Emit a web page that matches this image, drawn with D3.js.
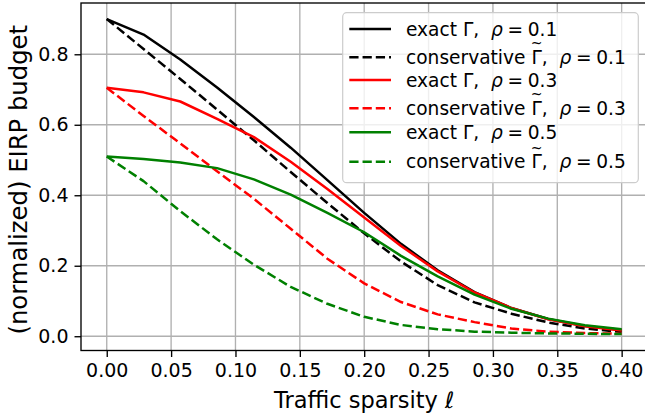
<!DOCTYPE html>
<html>
<head>
<meta charset="utf-8">
<script src="https://cdn.jsdelivr.net/npm/d3@7"></script>
<style>
  body { margin: 0; background: #fff; }
  text { font-family: 'DejaVu Sans', sans-serif; white-space: pre; }
</style>
</head>
<body>
<div id="chart"></div>
<script>
// traffic sparsity samples
const sparsity = [0, 0.0286, 0.0571, 0.0857, 0.1143, 0.1429, 0.1714, 0.2, 0.2286, 0.2571, 0.2857, 0.3143, 0.3429, 0.3714, 0.4]

const exact01 = [0.900, 0.856, 0.785, 0.706, 0.622, 0.535, 0.443, 0.350, 0.262, 0.187, 0.125, 0.080, 0.049, 0.029, 0.018]
const cons01 = [0.900, 0.815, 0.730, 0.643, 0.556, 0.466, 0.378, 0.292, 0.212, 0.145, 0.096, 0.064, 0.039, 0.022, 0.012]
const exact03 = [0.705, 0.692, 0.666, 0.617, 0.565, 0.495, 0.418, 0.337, 0.256, 0.184, 0.124, 0.080, 0.048, 0.028, 0.016]
const cons03 = [0.705, 0.625, 0.547, 0.468, 0.390, 0.305, 0.220, 0.150, 0.097, 0.062, 0.040, 0.022, 0.013, 0.009, 0.007]
const exact05 = [0.510, 0.503, 0.493, 0.477, 0.445, 0.402, 0.350, 0.295, 0.228, 0.170, 0.118, 0.078, 0.050, 0.031, 0.020]
const cons05 = [0.510, 0.440, 0.355, 0.275, 0.203, 0.140, 0.092, 0.055, 0.032, 0.020, 0.013, 0.010, 0.008, 0.007, 0.006]

const xTicks = [0, 0.05, 0.1, 0.15, 0.2, 0.25, 0.3, 0.35, 0.4]
const yTicks = [0, 0.2, 0.4, 0.6, 0.8]

const series = [
    { kind: 'exact', rho: '0.1', values: exact01, color: '#000000', dashed: false },
    { kind: 'conservative', rho: '0.1', values: cons01, color: '#000000', dashed: true },
    { kind: 'exact', rho: '0.3', values: exact03, color: '#ff0000', dashed: false },
    { kind: 'conservative', rho: '0.3', values: cons03, color: '#ff0000', dashed: true },
    { kind: 'exact', rho: '0.5', values: exact05, color: '#008000', dashed: false },
    { kind: 'conservative', rho: '0.5', values: cons05, color: '#008000', dashed: true }
]

const W = 645, H = 420
const plot = { left: 81, right: 647.4, top: 3, bottom: 350.5 }
const dash = '9.25,4'

const svg = d3.select('#chart')
    .append('svg')
        .attr('width', W)
        .attr('height', H)

const x = d3.scaleLinear()
    .domain([-0.02, 0.42])
    .range([plot.left, plot.right])

const y = d3.scaleLinear()
    .domain([-0.0405, 0.9455])
    .range([plot.bottom, plot.top])

// grid
const grid = svg.append('g')
grid.selectAll('.gx')
    .data(xTicks)
    .enter()
    .append('line')
        .attr('x1', d => x(d)).attr('x2', d => x(d))
        .attr('y1', plot.top).attr('y2', plot.bottom)
        .attr('stroke', '#b0b0b0')
        .attr('stroke-width', 1.35)
grid.selectAll('.gy')
    .data(yTicks)
    .enter()
    .append('line')
        .attr('x1', plot.left).attr('x2', plot.right)
        .attr('y1', d => y(d)).attr('y2', d => y(d))
        .attr('stroke', '#b0b0b0')
        .attr('stroke-width', 1.35)

// curves
const line = d3.line()
    .x((d, i) => x(sparsity[i]))
    .y(d => y(d))

svg.append('g')
    .selectAll('path')
    .data(series)
    .enter()
    .append('path')
        .attr('d', d => line(d.values))
        .attr('fill', 'none')
        .attr('stroke', d => d.color)
        .attr('stroke-width', 2.5)
        .attr('stroke-dasharray', d => d.dashed ? dash : null)
        .attr('stroke-linejoin', 'round')

// axes
svg.append('g')
    .attr('transform', `translate(0, ${plot.bottom})`)
    .call(d3.axisBottom(x).tickValues(xTicks).tickFormat(d3.format('.2f')).tickSizeOuter(0).tickSize(6.5).tickPadding(7))
svg.append('g')
    .attr('transform', `translate(${plot.left}, 0)`)
    .call(d3.axisLeft(y).tickValues(yTicks).tickFormat(d3.format('.1f')).tickSizeOuter(0).tickSize(6.5).tickPadding(6))

svg.selectAll('.domain').remove()
svg.selectAll('.tick line').attr('stroke', '#000').attr('stroke-width', 1.35)
svg.selectAll('.tick text')
    .attr('fill', '#000')
    .style('font-size', '19px')
    .style('font-family', 'DejaVu Sans')

// frame
svg.append('rect')
    .attr('x', plot.left).attr('y', plot.top)
    .attr('width', plot.right - plot.left)
    .attr('height', plot.bottom - plot.top)
    .attr('fill', 'none')
    .attr('stroke', '#000')
    .attr('stroke-width', 1.35)

// axis labels
const xLabel = svg.append('text')
    .attr('x', (plot.left + plot.right) / 2)
    .attr('y', 408)
    .attr('text-anchor', 'middle')
    .style('font-size', '22.5px')
xLabel.append('tspan').text('Traffic sparsity ')
xLabel.append('tspan').style('font-style', 'italic').text('ℓ')

svg.append('text')
    .attr('transform', `translate(27, ${(plot.top + plot.bottom) / 2 + 3}) rotate(-90)`)
    .attr('text-anchor', 'middle')
    .style('font-size', '24.3px')
    .text('(normalized) EIRP budget')

// legend
const legend = svg.append('g')
legend.append('rect')
    .attr('x', 342.7).attr('y', 12.7)
    .attr('width', 295.6).attr('height', 170)
    .attr('rx', 4)
    .attr('fill', 'rgba(255,255,255,0.8)')
    .attr('stroke', '#cccccc')
    .attr('stroke-width', 1.2)

const rowY = [29, 57.3, 80, 108.3, 132.3, 161.7]
const gammaW = 0.557 * 18.6
const tildeW = 0.838 * 14

series.forEach((s, i) => {
    const ry = rowY[i]
    legend.append('line')
        .attr('x1', 349.3).attr('x2', 391)
        .attr('y1', ry).attr('y2', ry)
        .attr('stroke', s.color)
        .attr('stroke-width', 2.5)
        .attr('stroke-dasharray', s.dashed ? dash : null)

    const t = legend.append('text')
        .attr('x', 406)
        .attr('y', ry + 6.5)
        .style('font-size', '18.6px')
    t.append('tspan').text(s.kind + ' ')
    t.append('tspan').text('Γ')
    let back = 0
    if (s.kind === 'conservative') {
        // wide tilde sitting over the Gamma
        t.append('tspan')
            .attr('dx', -(gammaW + tildeW) / 2)
            .attr('dy', -15.5)
            .style('font-size', '14px')
            .text('~')
        back = (gammaW - tildeW) / 2
    }
    t.append('tspan')
        .attr('dx', back)
        .attr('dy', s.kind === 'conservative' ? 15.5 : 0)
        .text(',  ')
    t.append('tspan').style('font-style', 'italic').text('ρ')
    t.append('tspan').text('\u2005=\u2005' + s.rho)
})
</script>
</body>
</html>
